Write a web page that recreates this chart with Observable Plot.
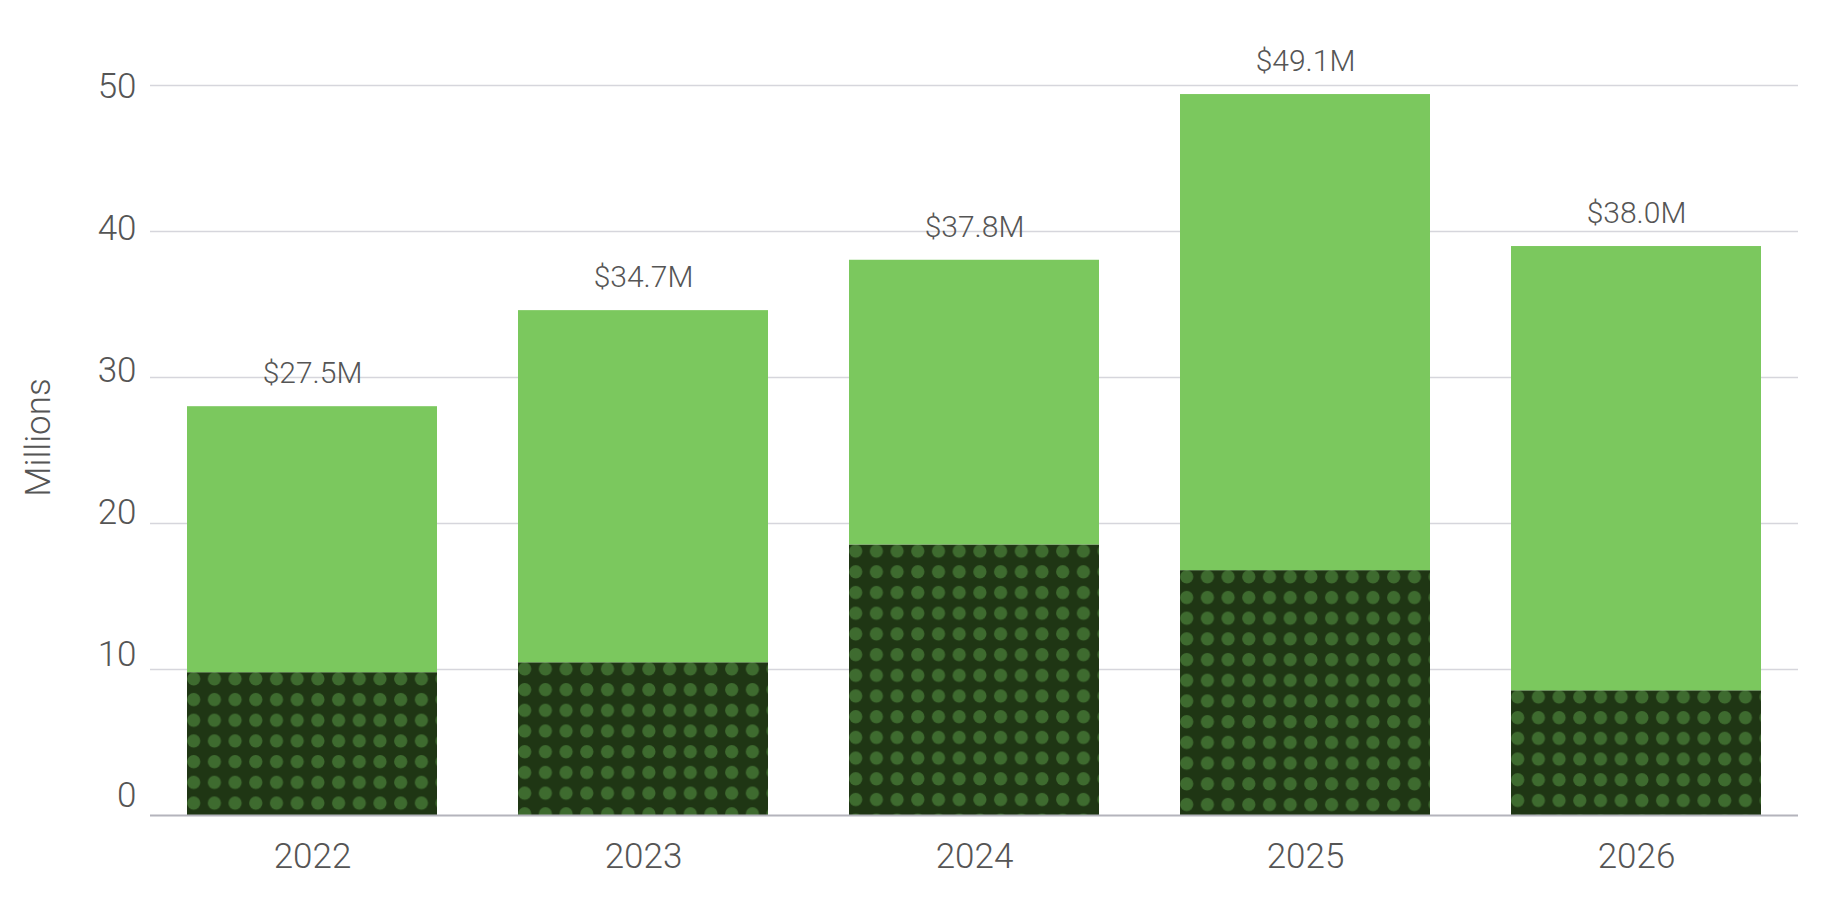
<!DOCTYPE html>
<html><head><meta charset="utf-8">
<script src="https://cdn.jsdelivr.net/npm/d3@7"></script>
<script src="https://cdn.jsdelivr.net/npm/@observablehq/plot@0.6"></script>
<style>body{margin:0;background:#fff} svg{display:block}</style>
</head><body><div id="chart"></div>
<script>
const years = ["2022", "2023", "2024", "2025", "2026"];
const baseValues = [9.78, 10.46, 18.53, 16.77, 8.54];
const topValues = [18.22, 24.12, 19.50, 32.61, 30.43];
const totalLabels = ["$27.5M", "$34.7M", "$37.8M", "$49.1M", "$38.0M"];
const yTicks = [0, 10, 20, 30, 40, 50];
const seriesNames = ["base", "top"];
const yTitle = "Millions";

const DARK = "#1f3614", LIGHT = "#7bc85e", DOT = "#3e6b2f", TEXT = "#555555";

const rows = years.flatMap((y, i) => [
  {year: y, series: "base", value: baseValues[i]},
  {year: y, series: "top", value: topValues[i]}
]);
const totals = years.map((y, i) => ({year: y, total: baseValues[i] + topValues[i], label: totalLabels[i]}));

const plot = Plot.plot({
  width: 1834, height: 924,
  marginLeft: 150, marginRight: 36, marginTop: 85, marginBottom: 109,
  style: {fontFamily: "Roboto, sans-serif", fontWeight: 300, color: TEXT, background: "#fff"},
  x: {domain: years, paddingInner: 0.245, paddingOuter: 0.11, label: null},
  y: {domain: [0, 50], label: null, axis: null},
  color: {domain: seriesNames, range: [DARK, LIGHT]},
  marks: [
    Plot.gridY(yTicks.filter(d => d > 0), {stroke: "#d6d6dc", strokeOpacity: 1, strokeWidth: 1.5}),
    Plot.barY(rows, {x: "year", y: "value", fill: "series"}),
    Plot.ruleY([0], {stroke: "#b4b4bc", strokeWidth: 2}),
    Plot.axisX({tickSize: 0, tickPadding: 28, fontSize: 35, fill: TEXT, label: null}),
    Plot.text(yTicks, {y: d => d * 0.971 + 1.33, text: d => String(d), frameAnchor: "left", textAnchor: "end", dx: -14, fontSize: 35, fill: TEXT}),
    Plot.text(totals, {x: "year", y: "total", text: "label", dy: -33, fontSize: 30, fill: TEXT}),
    Plot.text([yTitle], {text: d => d, frameAnchor: "left", textAnchor: "middle", dx: -112, dy: -13, rotate: -90, fontSize: 35, fill: TEXT})
  ]
});

// dotted pattern for the dark (base) segments, anchored to each bar's top-left corner
const ns = "http://www.w3.org/2000/svg";
const defs = document.createElementNS(ns, "defs");
plot.insertBefore(defs, plot.firstChild);
let k = 0;
plot.querySelectorAll("rect").forEach(r => {
  if ((r.getAttribute("fill") || "").toLowerCase() !== DARK) return;
  const id = "dots" + (k++);
  const p = document.createElementNS(ns, "pattern");
  p.setAttribute("id", id);
  p.setAttribute("patternUnits", "userSpaceOnUse");
  p.setAttribute("x", r.getAttribute("x"));
  p.setAttribute("y", r.getAttribute("y"));
  p.setAttribute("width", 20.7);
  p.setAttribute("height", 20.7);
  const bg = document.createElementNS(ns, "rect");
  bg.setAttribute("width", 20.7); bg.setAttribute("height", 20.7); bg.setAttribute("fill", DARK);
  const c = document.createElementNS(ns, "circle");
  c.setAttribute("cx", 6.7); c.setAttribute("cy", 6.7); c.setAttribute("r", 6.6); c.setAttribute("fill", DOT);
  p.appendChild(bg); p.appendChild(c);
  defs.appendChild(p);
  r.setAttribute("fill", `url(#${id})`);
});

document.getElementById("chart").appendChild(plot);
</script>
</body></html>
